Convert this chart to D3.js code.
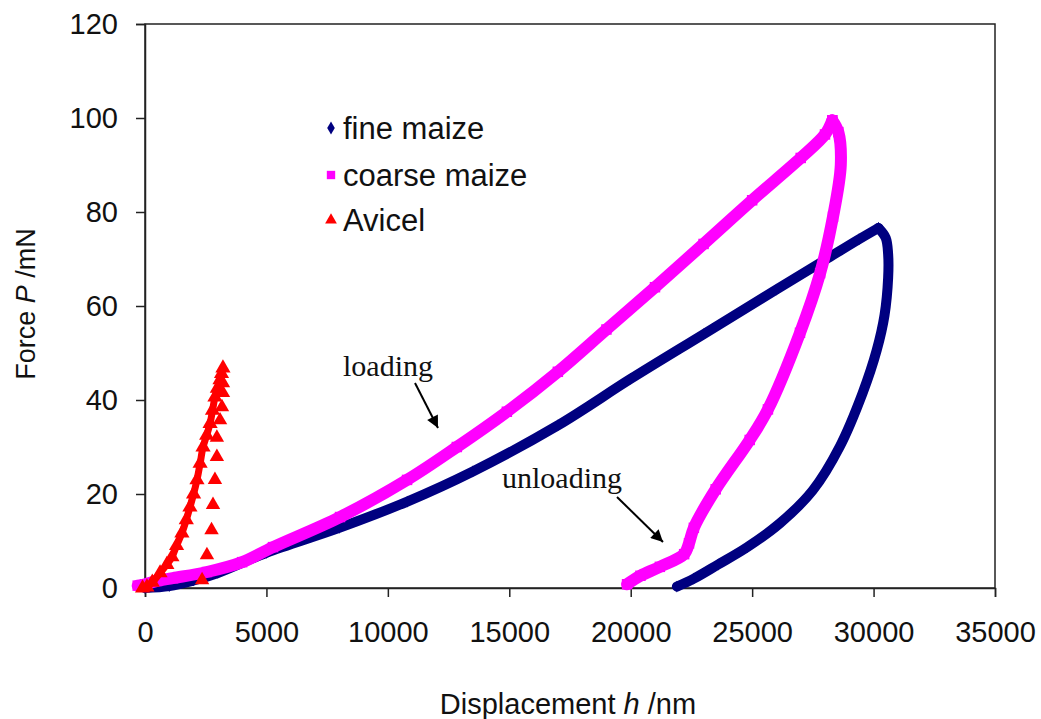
<!DOCTYPE html>
<html>
<head>
<meta charset="utf-8">
<script src="https://cdn.jsdelivr.net/npm/d3@7"></script>
<style>
  body { margin: 0; background: #fff; }
  svg text { font-family: "Liberation Sans", Arial, sans-serif; fill: #111; }
  .note { font-family: "Liberation Serif", "Times New Roman", serif; }
</style>
</head>
<body>
<script>
// values: [displacement nm, force mN]
var fineLoad = [[0,0],[1000,0.4],[2000,1.6],[3000,3.2],[5000,7.5],[8000,12.8],[10800,18.4],[13500,24.8],
  [17000,34.6],[20000,44.5],[23000,54],[26000,63.5],[28000,69.8],[29400,74.2],[30200,76.6]];
var fineUnload = [[30200,76.6],[30500,74.5],[30600,71],[30600,66],[30450,58],[30130,50.6],[29550,41.5],
  [28600,30],[27500,20.8],[26150,13.8],[24800,8.7],[23600,5],[22600,2],[21900,0.3]];
var coarseLoad = [[-300,0.5],[0,0.8],[500,1.5],[1150,2.1],[2550,3.4],[4000,5.5],[5270,8.7],[8030,15.1],
  [10790,23],[12840,30],[14900,37.5],[17000,46],[19000,55],[21000,64],[23000,73.2],[25000,82.5],
  [27000,91.5],[28000,96.5],[28300,99.5]];
var coarseUnload = [[28300,99.5],[28550,97],[28650,90],[28330,79],[27800,67],[26970,54.3],[25650,38],
  [24900,31.5],[23500,21],[22600,12.8],[22400,9.5],[22200,7.2],[21200,4.5],[20400,2.6],[19850,0.8]];
var avicelLoad = [[-100,0],[80,0.2],[300,1.2],[620,3.2],[900,5],[1110,6.6],[1300,9],[1520,11.7],[1700,14.5],
  [1850,17.2],[2000,20],[2140,23],[2270,26.5],[2390,30],[2540,32.5],[2680,35],[2780,37.8],[2880,40.6],
  [2980,42.5],[3090,44.3],[3150,45.6],[3210,46.8]];
var avicelUnload = [[3210,43.6],[3210,41.5],[3170,38.5],[3090,35.7],[2960,32],[2960,27.9],[2880,23],
  [2800,17.7],[2740,12.3],[2550,7],[2350,1.7]];

var xTicks = [0, 5000, 10000, 15000, 20000, 25000, 30000, 35000];
var yTicks = [0, 20, 40, 60, 80, 100, 120];
var legendNames = ["fine maize", "coarse maize", "Avicel"];
var colors = ["#000080", "#ff00ff", "#ff0000"];

var width = 1041, height = 719;
var margin = {left: 145, right: 995, top: 24, bottom: 588};

var svg = d3.select("body").append("svg")
    .attr("width", width)
    .attr("height", height);

var x = d3.scaleLinear().domain([0, 35000]).range([margin.left, margin.right]);
var y = d3.scaleLinear().domain([0, 120]).range([margin.bottom, margin.top]);

// frame
svg.append("rect")
    .attr("x", margin.left).attr("y", margin.top)
    .attr("width", margin.right - margin.left).attr("height", margin.bottom - margin.top)
    .attr("fill", "none").attr("stroke", "#222").attr("stroke-width", 1.5);

var xAxis = svg.append("g")
    .attr("transform", "translate(0," + margin.bottom + ")")
    .call(d3.axisBottom(x).tickValues(xTicks).tickSize(9).tickPadding(24).tickFormat(d3.format("d")));
var yAxis = svg.append("g")
    .attr("transform", "translate(" + margin.left + ",0)")
    .call(d3.axisLeft(y).tickValues(yTicks).tickSize(9).tickPadding(18));

[xAxis, yAxis].forEach(function(a) {
    a.select(".domain").attr("stroke", "#222").attr("stroke-width", 1.5);
    a.selectAll(".tick line").attr("stroke", "#222").attr("stroke-width", 1.5);
    a.selectAll(".tick text").attr("font-size", 29).attr("fill", "#222")
        .attr("font-family", "'Liberation Sans', Arial, sans-serif");
});

var line = d3.line()
    .x(function(d) { return x(d[0]); })
    .y(function(d) { return y(d[1]); })
    .curve(d3.curveCatmullRom);

var plot = svg.append("g");

// thick traces of densely packed markers
function trace(data, color, w) {
    plot.append("path")
        .datum(data)
        .attr("d", line)
        .attr("fill", "none")
        .attr("stroke", color)
        .attr("stroke-width", w)
        .attr("stroke-linejoin", "round")
        .attr("stroke-linecap", "round");
}

function marks(data, symbol, size, color) {
    plot.selectAll(null)
        .data(data)
        .enter().append("path")
        .attr("transform", function(d) { return "translate(" + x(d[0]) + "," + y(d[1]) + ")"; })
        .attr("d", d3.symbol().type(symbol).size(size))
        .attr("fill", color);
}

trace(fineLoad, colors[0], 10);
trace(fineUnload, colors[0], 10);
marks(fineLoad.concat(fineUnload), d3.symbolDiamond, 40, colors[0]);

trace(coarseLoad, colors[1], 12);
trace(coarseUnload, colors[1], 12);
marks(coarseLoad.concat(coarseUnload), d3.symbolSquare, 110, colors[1]);

trace(avicelLoad, colors[2], 7);
marks(avicelLoad, d3.symbolTriangle, 100, colors[2]);
marks(avicelUnload, d3.symbolTriangle, 90, colors[2]);

// legend
var legendY = [128, 175, 220];
var legendSym = [d3.symbolDiamond, d3.symbolSquare, d3.symbolTriangle];
var legendSize = [50, 70, 60];
legendNames.forEach(function(name, i) {
    svg.append("path")
        .attr("transform", "translate(331," + legendY[i] + ")")
        .attr("d", d3.symbol().type(legendSym[i]).size(legendSize[i]))
        .attr("fill", colors[i]);
    svg.append("text")
        .attr("x", 343).attr("y", legendY[i])
        .attr("dy", "0.35em")
        .attr("font-size", 31)
        .text(name);
});

// axis titles
var xt = svg.append("text")
    .attr("x", 568).attr("y", 714)
    .attr("text-anchor", "middle")
    .attr("font-size", 29);
xt.append("tspan").text("Displacement ");
xt.append("tspan").attr("font-style", "italic").text("h");
xt.append("tspan").text(" /nm");

var yt = svg.append("text")
    .attr("transform", "translate(35,304) rotate(-90)")
    .attr("text-anchor", "middle")
    .attr("font-size", 27);
yt.append("tspan").text("Force ");
yt.append("tspan").attr("font-style", "italic").text("P");
yt.append("tspan").text(" /mN");

// annotations
svg.append("defs").append("marker")
    .attr("id", "head")
    .attr("viewBox", "0 0 10 10")
    .attr("refX", 10).attr("refY", 5)
    .attr("markerWidth", 14).attr("markerHeight", 12)
    .attr("markerUnits", "userSpaceOnUse")
    .attr("orient", "auto")
    .append("path").attr("d", "M0,0L10,5L0,10z").attr("fill", "#000");

svg.append("text").attr("class", "note")
    .attr("x", 343).attr("y", 376).attr("font-size", 30)
    .text("loading");
svg.append("line")
    .attr("x1", 415).attr("y1", 383).attr("x2", 438).attr("y2", 428)
    .attr("stroke", "#000").attr("stroke-width", 2)
    .attr("marker-end", "url(#head)");

svg.append("text").attr("class", "note")
    .attr("x", 502).attr("y", 488).attr("font-size", 30)
    .text("unloading");
svg.append("line")
    .attr("x1", 617).attr("y1", 497).attr("x2", 663).attr("y2", 542)
    .attr("stroke", "#000").attr("stroke-width", 2)
    .attr("marker-end", "url(#head)");
</script>
</body>
</html>
